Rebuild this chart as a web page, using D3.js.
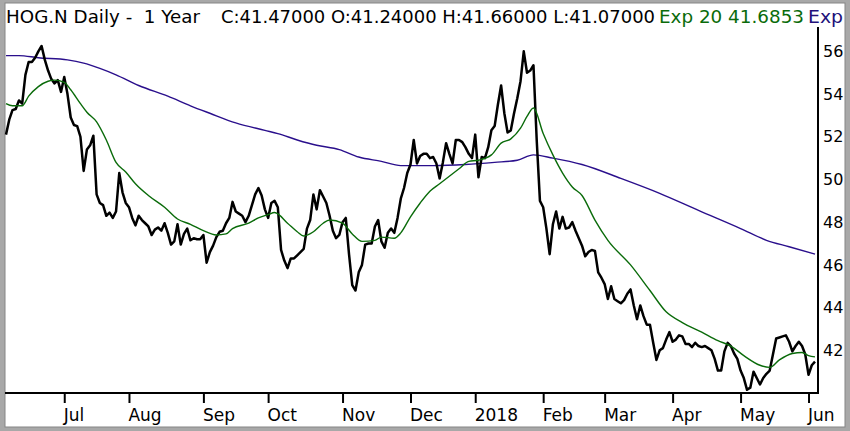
<!DOCTYPE html>
<html>
<head>
<meta charset="utf-8">
<script src="https://cdn.jsdelivr.net/npm/d3@7"></script>
<style>
  html, body { margin: 0; padding: 0; background: #fff; }
  svg { display: block; }
  text { font-family: "DejaVu Sans", Verdana, sans-serif; }
</style>
</head>
<body>
<svg id="chart" width="850" height="431"></svg>
<script>
// Daily closes, one per trading day (June 2017 - June 2018)
const closes = [
  52.1, 52.8, 53.25, 53.3, 53.7, 53.55, 54.9, 55.5, 55.5, 55.7,
  56.0, 56.25, 55.6, 55.1, 54.7, 54.5, 54.65, 54.1, 54.8, 54.0,
  52.9, 52.55, 52.5, 52.0, 50.4, 51.4, 51.6, 52.05, 49.3, 48.9,
  48.8, 48.3, 48.45, 48.2, 48.5, 50.3, 49.4, 48.9, 48.7, 48.2,
  47.85, 48.3, 48.1, 47.95, 47.8, 47.4, 47.65, 47.75, 47.6, 47.95,
  47.5, 46.95, 47.1, 47.9, 46.95, 47.45, 47.7, 47.15, 47.25, 47.2,
  47.2, 47.4, 46.1, 46.6, 46.9, 47.3, 47.55, 47.6, 47.95, 48.2,
  48.95, 48.5, 48.4, 48.3, 48.0, 48.3, 48.8, 49.3, 49.6, 49.25,
  48.6, 48.2, 48.9, 49.0, 48.7, 46.7, 46.2, 45.85, 46.3, 46.3,
  46.45, 46.6, 46.75, 47.7, 48.1, 49.3, 48.6, 49.5, 49.2, 48.9,
  48.3, 47.6, 47.25, 47.4, 48.0, 48.2, 46.5, 45.05, 44.8, 45.65,
  46.0, 46.95, 47.0, 47.0, 47.8, 48.1, 47.1, 46.8, 47.5, 47.7,
  47.5, 48.2, 49.1, 49.6, 50.3, 50.7, 51.85, 50.75, 51.1, 51.2,
  51.2, 51.0, 51.05, 50.75, 50.05, 50.8, 51.7, 51.2, 50.75, 51.85,
  51.85, 51.75, 51.5, 51.2, 51.0, 52.1, 50.1, 51.05, 51.0, 51.5,
  52.3, 52.5, 53.5, 54.4, 53.1, 52.2, 52.3, 53.1, 53.8, 54.6,
  56.0, 55.0, 55.1, 55.35, 51.85, 49.0, 48.7, 47.7, 46.5, 47.9,
  48.5, 47.7, 48.25, 47.7, 47.75, 48.0, 47.6, 47.25, 46.9, 46.4,
  46.6, 46.7, 46.65, 45.65, 45.4, 45.1, 44.4, 45.0, 44.4, 44.3,
  44.2, 44.35, 44.65, 44.85, 44.1, 43.45, 44.1, 43.6, 43.2, 43.2,
  42.35, 41.55, 42.0, 42.1, 42.5, 42.85, 42.4, 42.5, 42.7, 42.65,
  42.3, 42.3, 42.15, 42.35, 42.2, 42.15, 42.2, 42.1, 42.0, 41.6,
  41.05, 41.05, 41.95, 42.35, 42.2, 41.85, 41.6, 41.05, 40.7, 40.15,
  40.25, 41.0, 40.7, 40.4, 40.7, 40.9, 41.05, 41.8, 42.55, 42.6,
  42.65, 42.7, 42.4, 41.95, 42.2, 42.4, 42.2, 41.8, 40.85, 41.3, 41.47
];

// Exp 20 (green), read at sample days
const ema20Days = [0, 2, 5, 7, 10, 13, 15, 18, 20, 23, 25, 28, 31, 34, 37, 40, 44, 49, 53, 57,
  61, 65, 68, 70, 75, 78, 81, 83, 87, 90, 92, 95, 98, 100, 104, 107, 110, 114, 116, 120,
  122, 125, 128, 131, 134, 137, 140, 143, 146, 150, 153, 156, 159, 161, 163, 166, 169, 172, 175, 178,
  182, 186, 193, 199, 204, 209, 215, 220, 224, 228, 233, 236, 239, 243, 246, 248, 250];
const ema20 = [53.55, 53.45, 53.45, 53.9, 54.35, 54.6, 54.65, 54.55, 54.2, 53.55, 53.15, 52.7, 51.85, 50.8, 50.35, 49.8, 49.25, 48.7, 48.15, 47.9,
  47.6, 47.4, 47.45, 47.7, 47.95, 48.2, 48.35, 48.45, 47.95, 47.55, 47.35, 47.55, 47.95, 48.1, 47.95, 47.45, 47.1, 47.15, 47.3, 47.25,
  47.5, 48.25, 48.9, 49.45, 49.8, 50.15, 50.5, 50.85, 50.9, 51.15, 51.7, 51.9, 52.4, 52.95, 53.35, 52.15, 51.15, 50.3, 49.65, 49.25,
  48.1, 47.15, 46.0, 44.8, 43.8, 43.3, 42.85, 42.45, 42.2, 41.75, 41.3, 41.2, 41.55, 41.85, 41.9, 41.75, 41.69];

// Long exp average (purple), read at sample days
const emaLongDays = [0, 4, 10, 19, 24, 29, 34, 41, 50, 57, 63, 71, 80, 84, 90, 96, 103, 109, 116, 122,
  132, 142, 151, 158, 163, 169, 178, 190, 202, 214, 227, 235, 242, 250];
const emaLong = [55.8, 55.8, 55.7, 55.6, 55.45, 55.2, 54.9, 54.4, 53.9, 53.45, 53.1, 52.65, 52.3, 52.15, 51.85, 51.6, 51.4, 51.05, 50.85, 50.65,
  50.65, 50.7, 50.8, 50.9, 51.15, 51.0, 50.7, 50.05, 49.35, 48.55, 47.7, 47.15, 46.85, 46.5];

const monthDays = [18, 38, 61, 81, 104, 125, 145, 166, 185, 206, 227, 248];
const monthLabels = ["Jul", "Aug", "Sep", "Oct", "Nov", "Dec", "2018", "Feb", "Mar", "Apr", "May", "Jun"];
const priceTicks = [42, 44, 46, 48, 50, 52, 54, 56];

const svg = d3.select("#chart");
const W = 850, H = 431;
const plot = { left: 5, right: 818, top: 27, bottom: 393 };

// frame
svg.append("rect").attr("width", W).attr("height", H).attr("fill", "#a8a8a8");
svg.append("rect").attr("x", 5).attr("y", 3).attr("width", 840).attr("height", 424)
  .attr("fill", "#fff").attr("stroke", "#858585").attr("stroke-width", 1);

const x = d3.scaleLinear().domain([0, closes.length - 1]).range([6, 815]);
const y = d3.scaleLinear().domain([40, 57.14]).range([plot.bottom, plot.top]);

// x axis
const xAxis = d3.axisBottom(x)
  .tickValues(monthDays)
  .tickFormat((d, i) => monthLabels[i])
  .tickSize(10)
  .tickSizeOuter(0)
  .tickPadding(6);

const gx = svg.append("g")
  .attr("transform", `translate(0,${plot.bottom})`)
  .call(xAxis);
gx.select(".domain").remove();
gx.selectAll(".tick line").attr("stroke", "#000").attr("stroke-width", 2);
gx.selectAll(".tick text")
  .attr("text-anchor", "start")
  .attr("dx", -1)
  .attr("fill", "#000")
  .style("font-size", "17px");

// y axis on the right
const yAxis = d3.axisRight(y)
  .tickValues(priceTicks)
  .tickSize(0)
  .tickPadding(5);

const gy = svg.append("g")
  .attr("transform", `translate(${plot.right},0)`)
  .call(yAxis);
gy.select(".domain").remove();
gy.selectAll(".tick text").attr("fill", "#000").style("font-size", "16px");

// plot borders
svg.append("line")
  .attr("x1", plot.left).attr("x2", plot.right + 1)
  .attr("y1", plot.bottom).attr("y2", plot.bottom)
  .attr("stroke", "#000").attr("stroke-width", 2);
svg.append("line")
  .attr("x1", plot.right).attr("x2", plot.right)
  .attr("y1", plot.top).attr("y2", plot.bottom)
  .attr("stroke", "#000").attr("stroke-width", 2);

// long average
const smooth = d3.line()
  .x(d => x(d[0]))
  .y(d => y(d[1]))
  .curve(d3.curveMonotoneX);

svg.append("path")
  .datum(emaLongDays.map((d, i) => [d, emaLong[i]]))
  .attr("d", smooth)
  .attr("fill", "none")
  .attr("stroke", "#2a0f8c")
  .attr("stroke-width", 1.4);

// price
const priceLine = d3.line()
  .x((d, i) => x(i))
  .y(d => y(d));

svg.append("path")
  .datum(closes)
  .attr("d", priceLine)
  .attr("fill", "none")
  .attr("stroke", "#000")
  .attr("stroke-width", 2.5)
  .attr("stroke-linejoin", "round");

// exp 20
svg.append("path")
  .datum(ema20Days.map((d, i) => [d, ema20[i]]))
  .attr("d", smooth)
  .attr("fill", "none")
  .attr("stroke", "#0a6b0a")
  .attr("stroke-width", 1.4);

// header
const head = [
  { t: "HOG.N Daily -  1 Year", x: 6, w: 194, c: "#000" },
  { t: "C:41.47000 O:41.24000 H:41.66000 L:41.07000", x: 221, w: 434, c: "#000" },
  { t: "Exp 20 41.6853", x: 659, w: 145, c: "#0a6b0a" },
  { t: "Exp", x: 808, w: 35, c: "#22107a" }
];
svg.selectAll("text.head")
  .data(head)
  .enter()
  .append("text")
  .attr("class", "head")
  .attr("x", d => d.x)
  .attr("y", 23)
  .attr("fill", d => d.c)
  .attr("textLength", d => d.w)
  .attr("lengthAdjust", "spacingAndGlyphs")
  .style("font-size", "17.5px")
  .style("white-space", "pre")
  .text(d => d.t);
</script>
</body>
</html>
